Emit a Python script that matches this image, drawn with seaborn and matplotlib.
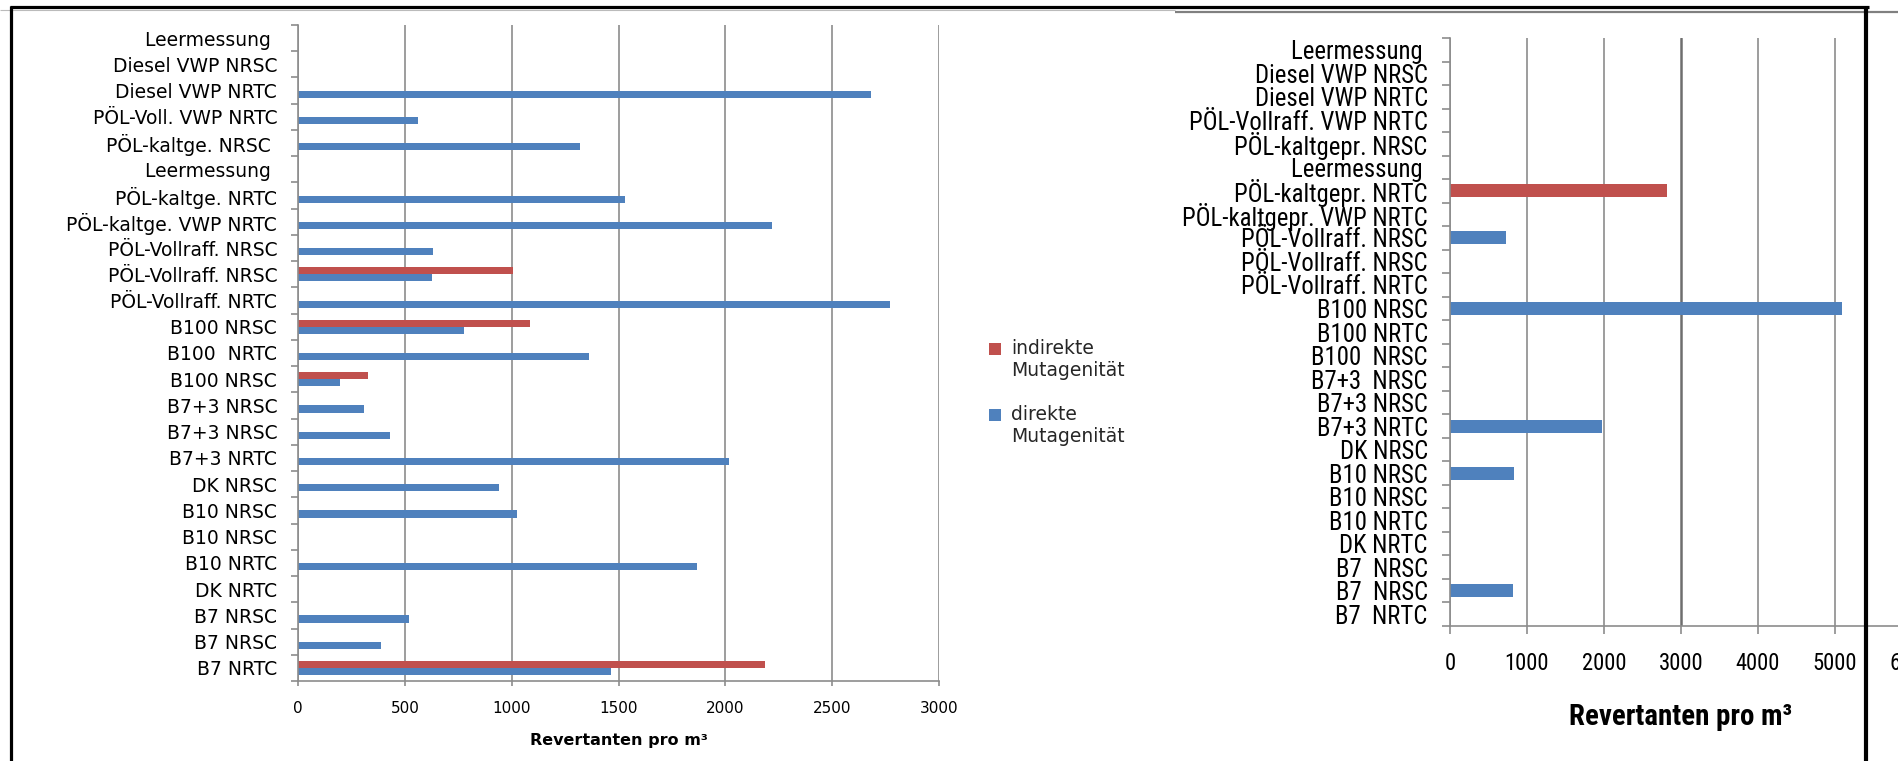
import os
import numpy as np
import pandas as pd
import matplotlib
matplotlib.use("Agg")
import matplotlib.pyplot as plt
from matplotlib import font_manager
from matplotlib.font_manager import FontProperties
from matplotlib.lines import Line2D
from matplotlib.patches import Patch, Rectangle
from matplotlib.legend_handler import HandlerPatch
import seaborn as sns

# ---------------- data ----------------
left_labels = ["Leermessung ", "Diesel VWP NRSC", "Diesel VWP NRTC", "PÖL-Voll. VWP NRTC",
               "PÖL-kaltge. NRSC ", "Leermessung ", "PÖL-kaltge. NRTC", "PÖL-kaltge. VWP NRTC",
               "PÖL-Vollraff. NRSC", "PÖL-Vollraff. NRSC", "PÖL-Vollraff. NRTC", "B100 NRSC",
               "B100  NRTC", "B100 NRSC", "B7+3 NRSC", "B7+3 NRSC", "B7+3 NRTC", "DK NRSC",
               "B10 NRSC", "B10 NRSC", "B10 NRTC", "DK NRTC", "B7 NRSC", "B7 NRSC", "B7 NRTC"]
left_direkte = [None, None, 2680, 562, 1319, None, 1530, 2218, 631, 625, 2773, 778,
                1361, 198, 307, 429, 2016, 943, 1027, None, 1868, None, 520, 387, 1464]
left_indirekte = [None, None, None, None, None, None, None, None, None, 1006, None, 1086,
                  None, 328, None, None, None, None, None, None, None, None, None, None, 2186]
left_xticks = [0, 500, 1000, 1500, 2000, 2500, 3000]

right_labels = ["Leermessung ", "Diesel VWP NRSC", "Diesel VWP NRTC", "PÖL-Vollraff. VWP NRTC",
                "PÖL-kaltgepr. NRSC", "Leermessung ", "PÖL-kaltgepr. NRTC", "PÖL-kaltgepr. VWP NRTC",
                "PÖL-Vollraff. NRSC", "PÖL-Vollraff. NRSC", "PÖL-Vollraff. NRTC", "B100 NRSC",
                "B100 NRTC", "B100  NRSC", "B7+3  NRSC", "B7+3 NRSC", "B7+3 NRTC", "DK NRSC",
                "B10 NRSC", "B10 NRSC", "B10 NRTC", "DK NRTC", "B7  NRSC", "B7  NRSC", "B7  NRTC"]
right_direkte = [None, None, None, None, None, None, None, None, 730, None, None, 5087,
                 None, None, None, None, 1974, None, 835, None, None, None, None, 823, None]
right_indirekte = [None, None, None, None, None, None, 2816, None, None, None, None, None,
                   None, None, None, None, None, None, None, None, None, None, None, None, None]
right_xticks = [0, 1000, 2000, 3000, 4000, 5000, 6000]

series_ind = "indirekte\nMutagenität"
series_dir = "direkte\nMutagenität"
x_title = "Revertanten pro m³"

RED = "#C0504D"
BLUE = "#4F81BD"
GRID = "#8C8C8C"


def long_frame(direkte, indirekte):
    rows = []
    for i, (d, r) in enumerate(zip(direkte, indirekte)):
        if r is not None:
            rows.append({"id": f"c{i:02d}", "series": series_ind, "value": r})
        if d is not None:
            rows.append({"id": f"c{i:02d}", "series": series_dir, "value": d})
    return pd.DataFrame(rows)


sns.set_style("white")
plt.rcParams["font.family"] = ["DejaVu Sans"]


# ---- pick a narrow font for the right-hand chart ----
def find_file(keys):
    files = [f.fname for f in font_manager.fontManager.ttflist]
    for key in keys:
        for fn in files:
            if os.path.basename(fn).lower().startswith(key):
                return fn
    return None


narrow_reg = find_file(["notosans-condensed.", "liberationsansnarrow-regular",
                        "opensans-condensed.", "opensans_condensed-regular",
                        "robotocondensed-regular", "dejavusanscondensed."])
narrow_bold = find_file(["notosans-condensedbold.", "liberationsansnarrow-bold.",
                         "opensans-condensedbold.", "opensans_condensed-bold",
                         "robotocondensed-bold.", "dejavusanscondensed-bold."])
if narrow_reg:
    fp_nr = FontProperties(fname=narrow_reg)
else:
    fp_nr = FontProperties(family="Liberation Sans")
if narrow_bold:
    fp_nb = FontProperties(fname=narrow_bold)
else:
    fp_nb = FontProperties(family="Liberation Sans", weight="bold")

W, H = 1899, 761
fig = plt.figure(figsize=(W / 100, H / 100), dpi=100)
fig.patch.set_facecolor("white")
renderer = fig.canvas.get_renderer()


def fit_size(text, fp, target_px):
    p = fp.copy()
    p.set_size(10)
    t = fig.text(0, 0, text, fontproperties=p)
    w = t.get_window_extent(renderer).width
    t.remove()
    return 10 * target_px / w


r_lab_size = min(fit_size("PÖL-kaltgepr. VWP NRTC", fp_nr, 246), 19)
r_tick_size = min(fit_size("5000", fp_nr, 44), 18)
r_xl_size = min(fit_size(x_title, fp_nb, 223), 21)

axL = fig.add_axes([298 / W, 1 - 681 / H, (939 - 298) / W, (681 - 25) / H])
axR = fig.add_axes([1450 / W, 1 - 626 / H, 462 / W, (626 - 38) / H])

palette = {series_ind: RED, series_dir: BLUE}


def draw(ax, labels, direkte, indirekte, xticks, fp_reg, fp_bold, ylab_size, xt_size,
         xl_size, ylab_pad, xt_len, xt_pad, ylen, xl_y):
    df = long_frame(direkte, indirekte)
    order = [f"c{i:02d}" for i in range(len(labels))]
    sns.barplot(data=df, x="value", y="id", hue="series", order=order,
                hue_order=[series_ind, series_dir], palette=palette, orient="h",
                width=0.55, saturation=1, linewidth=0, ax=ax, legend=False)
    ax.set_xlim(xticks[0], xticks[-1])
    ax.set_ylim(len(labels) - 0.5, -0.5)
    ax.set_xticks(xticks)
    p = fp_reg.copy(); p.set_size(xt_size)
    ax.set_xticklabels([str(t) for t in xticks], fontproperties=p, color="black")
    ax.set_yticks(range(len(labels)))
    p = fp_reg.copy(); p.set_size(ylab_size)
    ax.set_yticklabels(labels, fontproperties=p, color="black")
    ax.set_yticks(np.arange(-0.5, len(labels), 1), minor=True)
    ax.tick_params(axis="y", which="major", length=0, pad=ylab_pad, left=False)
    ax.tick_params(axis="y", which="minor", length=ylen, width=1.2, color=GRID, left=True)
    ax.tick_params(axis="x", which="major", length=xt_len, width=1.2, color=GRID,
                   bottom=True, pad=xt_pad)
    ax.set_axisbelow(True)
    ax.xaxis.grid(True, color=GRID, linewidth=1.2)
    ax.yaxis.grid(False)
    for s in ["top", "right"]:
        ax.spines[s].set_visible(False)
    for s in ["left", "bottom"]:
        ax.spines[s].set_color(GRID)
        ax.spines[s].set_linewidth(1.2)
    ax.set_ylabel("")
    p = fp_bold.copy(); p.set_size(xl_size)
    ax.set_xlabel(x_title, fontproperties=p, color="black")
    ax.xaxis.set_label_coords(0.5, xl_y)
    ax.xaxis.label.set_va("center")
    ax.patch.set_alpha(0)


fpL = FontProperties(family="DejaVu Sans")
fpLb = FontProperties(family="DejaVu Sans", weight="bold")
draw(axL, left_labels, left_direkte, left_indirekte, left_xticks, fpL, fpLb,
     13.5, 11, 11.5, 15, 3.6, 10.5, 5, (681 - 741) / (681 - 25))
draw(axR, right_labels, right_direkte, right_indirekte, right_xticks, fp_nr, fp_nb,
     r_lab_size, r_tick_size, r_xl_size, 16, 5.8, 13, 6, (626 - 717) / (626 - 38))

# darker 3000 gridline in right chart
axR.get_xgridlines()[3].set_color("#6E6E6E")
axR.get_xgridlines()[3].set_linewidth(1.8)


# legend: square handle aligned with the first line of each two-line label
def square_first_line(legend, orig_handle, xdescent, ydescent, width, height, fontsize):
    return Rectangle((-xdescent, -ydescent + 0.6 * fontsize), width, height)


handles = [Patch(facecolor=palette[s], edgecolor="none") for s in [series_ind, series_dir]]
fig.legend(handles, [series_ind, series_dir], loc="upper left",
           bbox_to_anchor=(982 / W, 1 - 331 / H), frameon=False, fontsize=13.5,
           handlelength=0.6, handleheight=0.6, handletextpad=0.55, labelspacing=1.35,
           borderaxespad=0,
           handler_map={Patch: HandlerPatch(patch_func=square_first_line)})


# outer frame lines (figure pixel coordinates -> fractions)
def fline(x0, y0, x1, y1, color, lw):
    fig.add_artist(Line2D([x0 / W, x1 / W], [1 - y0 / H, 1 - y1 / H],
                          transform=fig.transFigure, color=color, linewidth=lw,
                          solid_capstyle="butt"))


fline(0, 9.5, 1175, 9.5, "#BBBBBB", 0.8)
fline(1175, 12, W, 12, "#808080", 1.6)
fline(10, 7, 1869, 7, "black", 2.3)
fline(11.5, 5.5, 11.5, H, "black", 2.3)
fline(1866, 5.5, 1866, H, "black", 3.0)

fig.savefig("out.png", dpi=100, facecolor="white")
